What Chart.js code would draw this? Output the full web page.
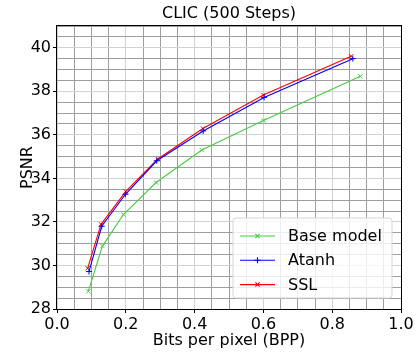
<!DOCTYPE html>
<html>
<head>
<meta charset="utf-8">
<script src="https://cdn.jsdelivr.net/npm/chart.js@4.4.1/dist/chart.umd.min.js"></script>
<style>
  html, body { margin: 0; padding: 0; background: #ffffff; }
  #wrap { width: 416px; height: 356px; position: relative; }
</style>
</head>
<body>
<div id="wrap"><canvas id="c" width="416" height="356"></canvas></div>
<script>
// Rate-distortion results on CLIC after 500 steps
const chartTitle = 'CLIC (500 Steps)';
const seriesNames = ['Base model', 'Atanh', 'SSL'];

const baseBpp  = [0.091, 0.132, 0.193, 0.288, 0.421, 0.600, 0.882];
const basePsnr = [28.81, 30.89, 32.34, 33.81, 35.30, 36.66, 38.69];

const atanhBpp  = [0.093, 0.130, 0.199, 0.290, 0.425, 0.602, 0.860];
const atanhPsnr = [29.72, 31.80, 33.27, 34.81, 36.18, 37.72, 39.50];

const sslBpp  = [0.089, 0.128, 0.200, 0.293, 0.424, 0.600, 0.855];
const sslPsnr = [29.87, 31.89, 33.40, 34.89, 36.29, 37.83, 39.61];

const xTickLabels = ['0.0', '0.2', '0.4', '0.6', '0.8', '1.0'];
const yTickLabels = ['28', '30', '32', '34', '36', '38', '40'];

const FONT = 'DejaVu Sans';
const FS = 16;

const toPoints = (xs, ys) => xs.map((x, i) => ({ x: x, y: ys[i] }));

const isMajor = (v, step) => Math.abs(v / step - Math.round(v / step)) < 1e-6;
const majorGrid = '#d2d2d2';
const minorGrid = '#9e9e9e';

// title, axes frame and in-axes legend
const framePlugin = {
  id: 'frame',
  beforeDatasetsDraw(chart) {
    const { ctx, chartArea: a } = chart;
    ctx.save();
    ctx.strokeStyle = '#000000';
    ctx.lineWidth = 1;
    ctx.strokeRect(Math.round(a.left) - 0.5, Math.round(a.top) - 0.5,
                   Math.round(a.right - a.left) + 1, Math.round(a.bottom - a.top) + 1);
    ctx.restore();
  },
  afterDraw(chart) {
    const { ctx, chartArea: a } = chart;
    ctx.save();
    // title
    ctx.fillStyle = '#000000';
    ctx.font = FS + 'px "' + FONT + '"';
    ctx.textAlign = 'center';
    ctx.textBaseline = 'middle';
    ctx.fillText(chartTitle, (a.left + a.right) / 2, 14);

    // legend
    const bx = 233, by = 218, bw = 159, bh = 80, r = 3;
    ctx.beginPath();
    ctx.moveTo(bx + r, by);
    ctx.arcTo(bx + bw, by, bx + bw, by + bh, r);
    ctx.arcTo(bx + bw, by + bh, bx, by + bh, r);
    ctx.arcTo(bx, by + bh, bx, by, r);
    ctx.arcTo(bx, by, bx + bw, by, r);
    ctx.closePath();
    ctx.fillStyle = 'rgba(255,255,255,0.8)';
    ctx.fill();
    ctx.strokeStyle = '#d6d6d6';
    ctx.lineWidth = 1;
    ctx.stroke();

    chart.data.datasets.forEach((ds, i) => {
      const y = 236 + i * 24.3;
      ctx.strokeStyle = ds.borderColor;
      ctx.lineWidth = ds.borderWidth;
      ctx.beginPath();
      ctx.moveTo(240, y);
      ctx.lineTo(275, y);
      ctx.stroke();
      Chart.helpers.drawPoint(ctx, {
        pointStyle: ds.pointStyle, radius: ds.pointRadius, rotation: 0,
        borderWidth: ds.pointBorderWidth
      }, 257.5, y);
      ctx.fillStyle = '#000000';
      ctx.textAlign = 'left';
      ctx.fillText(ds.label, 288, y + 1);
    });
    ctx.restore();
  }
};

const mkSet = (label, xs, ys, color, style) => ({
  label: label,
  data: toPoints(xs, ys),
  borderColor: color,
  backgroundColor: color,
  borderWidth: 1.1,
  pointStyle: style,
  pointRadius: 3,
  pointBorderWidth: 1,
  pointBorderColor: color,
  pointBackgroundColor: color,
  tension: 0,
  clip: false
});

new Chart(document.getElementById('c'), {
  type: 'line',
  data: {
    datasets: [
      mkSet(seriesNames[0], baseBpp, basePsnr, '#44cc44', 'crossRot'),
      mkSet(seriesNames[1], atanhBpp, atanhPsnr, '#0000ff', 'cross'),
      mkSet(seriesNames[2], sslBpp, sslPsnr, '#ff0000', 'crossRot')
    ]
  },
  options: {
    responsive: false,
    animation: false,
    devicePixelRatio: 1,
    layout: { padding: { top: 26, right: 15, left: 0, bottom: 0 } },
    plugins: { legend: { display: false }, tooltip: { enabled: false }, title: { display: false } },
    scales: {
      x: {
        type: 'linear',
        min: 0, max: 1,
        afterFit(s) { s.height = 47; },
        afterBuildTicks(s) {
          const t = [];
          for (let i = 0; i <= 20; i++) t.push({ value: i * 0.05 });
          s.ticks = t;
        },
        ticks: {
          autoSkip: false, maxRotation: 0, padding: 2,
          color: '#000000',
          font: { family: FONT, size: FS },
          callback(v) {
            if (!isMajor(v, 0.2)) return '';
            return xTickLabels[Math.round(v / 0.2)];
          }
        },
        grid: {
          drawTicks: true, tickLength: 4,
          color: c => isMajor(c.tick.value, 0.2) ? majorGrid : minorGrid,
          tickColor: c => isMajor(c.tick.value, 0.2) ? '#000000' : 'rgba(0,0,0,0)',
          lineWidth: 1
        },
        border: { display: false },
        title: {
          display: true, text: 'Bits per pixel (BPP)', color: '#000000',
          font: { family: FONT, size: FS }, padding: { top: 0, bottom: 6 }
        }
      },
      y: {
        type: 'linear',
        min: 28, max: 41,
        afterFit(s) { s.width = 57; },
        afterBuildTicks(s) {
          const t = [];
          for (let i = 0; i <= 26; i++) t.push({ value: 28 + i * 0.5 });
          s.ticks = t;
        },
        ticks: {
          autoSkip: false, padding: 2,
          color: '#000000',
          font: { family: FONT, size: FS },
          callback(v) {
            if (!isMajor(v - 28, 2)) return '';
            return yTickLabels[Math.round((v - 28) / 2)];
          }
        },
        grid: {
          drawTicks: true, tickLength: 4,
          color: c => isMajor(c.tick.value - 28, 2) ? majorGrid : minorGrid,
          tickColor: c => isMajor(c.tick.value - 28, 2) ? '#000000' : 'rgba(0,0,0,0)',
          lineWidth: 1
        },
        border: { display: false },
        title: {
          display: true, text: 'PSNR', color: '#000000',
          font: { family: FONT, size: FS }, padding: { top: 18, bottom: 0 }
        }
      }
    }
  },
  plugins: [framePlugin]
});
</script>
</body>
</html>
